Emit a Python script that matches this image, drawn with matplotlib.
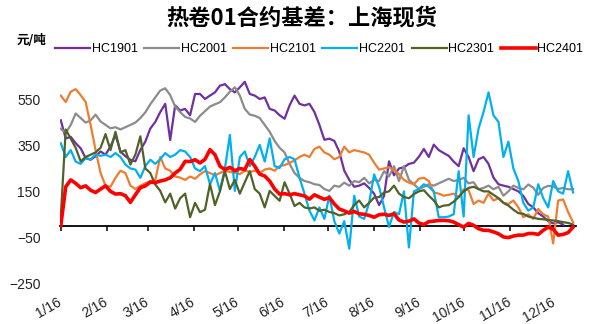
import matplotlib
matplotlib.use("Agg")
import matplotlib.pyplot as plt
import matplotlib.dates as mdates
import numpy as np
import pandas as pd

plt.rcParams["font.family"] = ["Liberation Sans", "Noto Sans CJK SC"]
plt.rcParams["axes.unicode_minus"] = True

nan = np.nan

# basis, yuan/ton, sampled roughly every 3.4 days from 1/16 to 12/29
HC1901 = [460, 381, 388, 360, 338, 295, 288, 303, 324, 310,
          346, 396, 324, 303, 288, 281, 331, 367, 424, 453,
          496, 532, 374, 525, 503, 510, 482, 575, 575, 553,
          568, 582, 611, 618, 596, 582, 604, 628, 575, 568,
          553, 560, 510, 503, 482, 467, 525, 568, 532, 525,
          532, 496, 440, 375, 380, 370, 323, 240, 200, 170,
          175, 185, 165, 140, 90, 130, 281, 220, 250, 255,
          270, 275, 301, 335, 300, 354, 330, 317, 305, 280,
          260, 338, 300, 238, 290, 300, 270, 210, 181, 175,
          170, 160, 150, 130, 95, 80, 55, 40, 20, 10,
          15, 5, nan, nan]
HC2001 = [423, 405, 440, 490, 470, 450, 460, 485, 455, 440,
          425, 430, 420, 430, 440, 450, 470, 495, 530, 560,
          590, 600, 570, 520, 496, 475, 468, 453, 480, 500,
          520, 530, 539, 560, 585, 604, 568, 510, 485, 480,
          470, 440, 410, 370, 340, 320, 270, 230, 209, 195,
          190, 181, 178, 160, 152, 175, 170, 188, 175, 195,
          190, 209, 185, 200, 195, 238, 215, 260, 195, 260,
          200, 181, 160, 170, 181, 175, 185, 195, 205, 195,
          200, 209, 185, 190, 159, 165, 175, 159, 170, 131,
          150, 175, 165, 159, 180, 166, 135, 165, 174, 172,
          160, 165, 159, 160]
HC2101 = [568, 540, 585, 596, 570, 540, 440, 330, 230, 175,
          170, 209, 240, 230, 175, 160, 175, 185, 195, 200,
          300, 250, 240, 215, 210, 200, 215, 205, 224, 238,
          230, 220, 230, 240, 235, 231, 225, 240, 235, 240,
          230, 245, 250, 240, 260, 265, 274, 285, 300, 310,
          300, 335, 345, 320, 310, 290, 300, 345, 320, 330,
          325, 320, 310, 275, 245, 250, 255, 245, 225, 200,
          188, 181, 205, 209, 195, 145, 140, 131, 135, 140,
          125, 159, 155, 95, 110, 100, 140, 110, 120, 100,
          95, 110, 80, 37, 50, 30, 73, 50, 40, -77,
          110, 115, 60, 15]
HC2201 = [360, 300, 330, 280, 270, 295, 290, 310, 305, 310,
          300, 317, 300, 267, 250, 245, 209, 260, 288, 270,
          290, 317, 300, 310, 330, 324, 300, 250, 238, 260,
          181, 230, 152, 250, 396, 152, 300, 324, 260, 300,
          353, 280, 381, 260, 252, 290, 300, 290, 210, 140,
          66, 23, 80, 30, 131, 20, -34, 20, -100, 131,
          40, 30, 100, 224, 170, 80, -5, 60, 50, 150,
          -95, 150, 160, 181, 170, 150, 37, 37, 40, 50,
          238, 40, 482, 300, 424, 496, 582, 482, 453, 300,
          367, 250, 195, 100, 66, 80, 181, 120, 80, 195,
          150, 140, 238, 145]
HC2301 = [37, 420, 380, 340, 281, 300, 310, 320, 340, 400,
          330, 410, 320, 330, 267, 310, 390, 250, 230, 180,
          152, 102, 140, 75, 120, 140, 37, 100, 59, 70,
          182, 90, 150, 238, 160, 200, 140, 190, 238, 160,
          140, 80, 152, 130, 109, 190, 140, 86, 100, 80,
          75, 80, 65, 70, 60, 55, 45, 50, 60, 90,
          110, 80, 100, 123, 125, 145, 150, 175, 140, 125,
          120, 138, 150, 155, 131, 110, 80, 88, 90, 105,
          125, 150, 165, 170, 160, 150, 150, 135, 120, 100,
          88, 70, 55, 52, 40, 35, 30, 28, 25, 23,
          20, 16, 12, 5]
HC2401 = [0, 170, 200, 185, 166, 174, 155, 145, 160, 174,
          150, 138, 140, 131, 102, 135, 166, 174, 190, 188,
          195, 200, 209, 230, 246, 281, 280, 288, 274, 290,
          332, 310, 260, 245, 255, 240, 250, 245, 289, 260,
          225, 217, 195, 160, 138, 140, 135, 140, 135, 130,
          116, 135, 125, 115, 123, 95, 73, 65, 55, 62,
          52, 50, 45, 37, 48, 50, 45, 52, 25, 16,
          20, 30, 12, 5, 18, 20, 23, 23, 22, 16,
          5, -6, 10, 2, -13, -20, -20, -27, -35, -49,
          -52, -45, -41, -41, -34, -34, -38, -20, -6, -15,
          -41, -38, -30, -6]

LABELS = ["HC1901", "HC2001", "HC2101", "HC2201", "HC2301", "HC2401"]
COLORS = ["#7030A0", "#8C8C8C", "#ED7D31", "#00B0F0", "#4F6228", "#FF0000"]
WIDTHS = [1.6, 1.6, 1.6, 1.6, 1.6, 2.6]

TICK_LABELS = ["1/16", "2/16", "3/16", "4/16", "5/16", "6/16",
               "7/16", "8/16", "9/16", "10/16", "11/16", "12/16"]
Y_TICKS = [-250, -50, 150, 350, 550]

dates = pd.date_range("2023-01-16", "2023-12-29", periods=len(HC2401))
tick_dates = pd.to_datetime([f"2023/{t}" for t in TICK_LABELS])
tick_nums = mdates.date2num(tick_dates)

fig = plt.figure(figsize=(5.92, 3.24), dpi=100)
ax = fig.add_axes([0.1014, 0.1265, 0.8716, 0.6365])

series = [HC1901, HC2001, HC2101, HC2201, HC2301, HC2401]
handles = []
for vals, label, color, lw in zip(series, LABELS, COLORS, WIDTHS):
    (ln,) = ax.plot(dates, vals, color=color, lw=lw, label=label,
                    solid_joinstyle="round")
    handles.append(ln)

ax.set_xlim(mdates.date2num(pd.Timestamp("2023-01-15 12:00")),
            mdates.date2num(pd.Timestamp("2023-12-31")))
ax.set_ylim(-250, 650)
ax.set_yticks(Y_TICKS)
ax.tick_params(axis="y", length=0, pad=14, labelsize=10, colors="#222222")
for side in ("left", "right", "top", "bottom"):
    ax.spines[side].set_visible(False)

# month labels sit below the plot, the axis line itself runs along zero
ax.set_xticks(tick_nums)
ax.set_xticklabels(TICK_LABELS, rotation=30, ha="right", va="center",
                   rotation_mode="anchor", fontsize=10, color="#222222")
ax.tick_params(axis="x", length=0, pad=13)

zero_axis = ax.secondary_xaxis(0, transform=ax.transData)
zero_axis.set_xticks(tick_nums)
zero_axis.tick_params(axis="x", direction="out", length=3.5, width=1.1,
                      labelbottom=False, color="black")
zero_axis.spines["bottom"].set_linewidth(1.3)
zero_axis.spines["bottom"].set_color("black")

cjk = ["Noto Sans CJK SC", "DejaVu Sans"]
fig.text(0.51, 1 - 18 / 324, "热卷01合约基差：上海现货", ha="center",
         va="center", fontsize=16, fontweight="bold", family=cjk)
fig.text(17 / 592, 1 - 41 / 324, "元/吨", ha="left", va="center",
         fontsize=9, fontweight="bold", family=cjk)

fig.legend(handles=handles, labels=LABELS, loc="center left",
           bbox_to_anchor=(55 / 592, 1 - 49 / 324), ncol=6, frameon=False,
           handlelength=2.8, handletextpad=0.15, columnspacing=0.5,
           borderpad=0, borderaxespad=0, prop={"size": 9})

fig.savefig("out.png", dpi=100)
